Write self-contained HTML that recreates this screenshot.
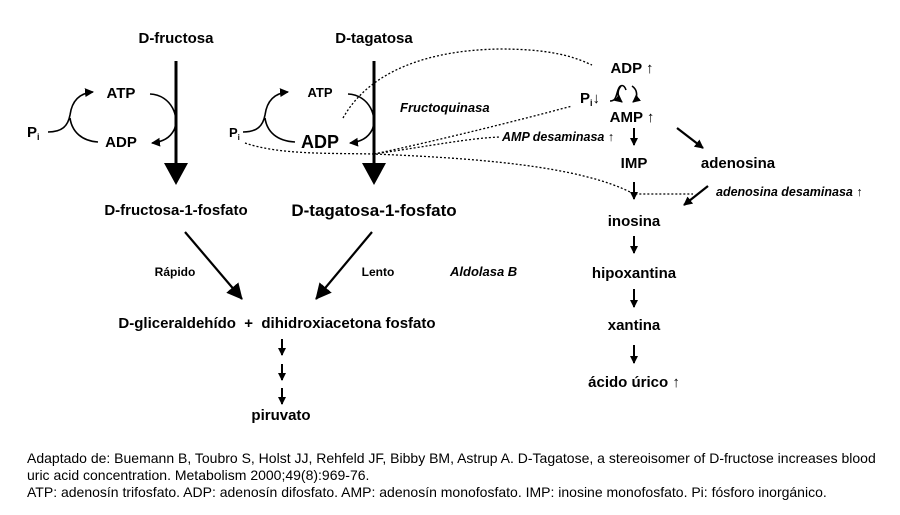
<!DOCTYPE html>
<html><head><style>
body{margin:0;background:#fff;}
svg text{font-family:"Liberation Sans",sans-serif;}
</style></head><body>
<svg width="900" height="510" viewBox="0 0 900 510" xmlns="http://www.w3.org/2000/svg">
<defs>
<marker id="a" markerWidth="9" markerHeight="9" refX="8" refY="4.5" orient="auto" markerUnits="userSpaceOnUse"><path d="M0,0 L9,4.5 L0,9 Z" fill="#000"/></marker>
<marker id="s" markerWidth="8" markerHeight="8" refX="7" refY="4" orient="auto" markerUnits="userSpaceOnUse"><path d="M0,0 L8,4 L0,8 Z" fill="#000"/></marker>
<marker id="b" markerWidth="16" markerHeight="16" refX="15" refY="8" orient="auto" markerUnits="userSpaceOnUse"><path d="M0,0 L16,8 L0,16 Z" fill="#000"/></marker>
</defs>
<g font-weight="bold" font-size="15" text-anchor="middle" fill="#000">
<text x="176" y="43">D-fructosa</text>
<text x="374" y="43">D-tagatosa</text>
<text x="121" y="98">ATP</text>
<text x="121" y="147">ADP</text>
<text x="320" y="97" font-size="13">ATP</text>
<text x="320" y="148" font-size="18">ADP</text>
<text x="176" y="215">D-fructosa-1-fosfato</text>
<text x="374" y="216" font-size="17">D-tagatosa-1-fosfato</text>
<text x="175" y="276" font-size="12">Rápido</text>
<text x="378" y="276" font-size="12">Lento</text>
<text x="277" y="328" xml:space="preserve">D-gliceraldehído  +  dihidroxiacetona fosfato</text>
<text x="281" y="420">piruvato</text>
<text x="632" y="73">ADP ↑</text>
<text x="632" y="122">AMP ↑</text>
<text x="634" y="168">IMP</text>
<text x="738" y="168">adenosina</text>
<text x="634" y="226">inosina</text>
<text x="634" y="278">hipoxantina</text>
<text x="634" y="330">xantina</text>
<text x="634" y="387">ácido úrico ↑</text>
</g>
<g font-weight="bold" font-size="15" fill="#000">
<text x="27" y="137">P<tspan font-size="9" dy="3">i</tspan></text>
<text x="229" y="137" font-size="13">P<tspan font-size="8" dy="3">i</tspan></text>
<text x="580" y="103">P<tspan font-size="9" dy="3">i</tspan><tspan dy="-3">↓</tspan></text>
</g>
<g font-weight="bold" font-style="italic" font-size="13" fill="#000">
<text x="400" y="112">Fructoquinasa</text>
<text x="502" y="141" font-size="12.5">AMP desaminasa ↑</text>
<text x="716" y="196" font-size="12.5">adenosina desaminasa ↑</text>
<text x="450" y="276">Aldolasa B</text>
</g>
<g stroke="#000" stroke-width="3" fill="none">
<line x1="176" y1="61" x2="176" y2="168"/>
<line x1="374" y1="61" x2="374" y2="168"/>
</g>
<path d="M164,163 L188,163 L176,185 Z M362,163 L386,163 L374,185 Z" fill="#000"/>
<g stroke="#000" stroke-width="1.6" fill="none">
<path d="M48,132 C62,132 68,126 70,115 C72,100 80,93 93,92" marker-end="url(#a)"/>
<path d="M70,118 C72,132 82,141 98,142"/>
<path d="M150,94 C172,95 180,118 174,130 C170,138 162,142 152,143" marker-end="url(#a)"/>
<path d="M243,132 C257,132 263,126 265,115 C267,100 275,93 288,92" marker-end="url(#a)"/>
<path d="M265,118 C267,132 277,141 295,142"/>
<path d="M348,94 C370,95 378,118 372,130 C368,138 360,142 350,143" marker-end="url(#a)"/>
<path d="M610,101 C616,101 616,96 618,90 C620,84 624,84 626,90" />
<path d="M621,86 C617,90 617,98 622,102" marker-end="url(#s)"/>
<path d="M632,86 C638,90 638,98 633,102" marker-end="url(#s)"/>
</g>
<g stroke="#000" stroke-width="2.2" fill="none">
<line x1="185" y1="232" x2="242" y2="299" marker-end="url(#b)"/>
<line x1="372" y1="232" x2="316" y2="299" marker-end="url(#b)"/>
<line x1="677" y1="128" x2="703" y2="148" marker-end="url(#a)"/>
<line x1="708" y1="186" x2="684" y2="205" marker-end="url(#a)"/>
</g>
<g stroke="#000" stroke-width="2" fill="none">
<line x1="282" y1="339" x2="282" y2="355" marker-end="url(#s)"/>
<line x1="282" y1="364" x2="282" y2="380" marker-end="url(#s)"/>
<line x1="282" y1="388" x2="282" y2="404" marker-end="url(#s)"/>
<line x1="634" y1="128" x2="634" y2="145" marker-end="url(#s)"/>
<line x1="634" y1="182" x2="634" y2="199" marker-end="url(#s)"/>
<line x1="634" y1="236" x2="634" y2="253" marker-end="url(#s)"/>
<line x1="634" y1="289" x2="634" y2="307" marker-end="url(#s)"/>
<line x1="634" y1="345" x2="634" y2="363" marker-end="url(#s)"/>
</g>
<g stroke="#000" stroke-width="1.3" stroke-dasharray="2,2" fill="none">
<path d="M343,118 C370,70 430,50 500,49 C560,49 580,60 592,65"/>
<path d="M374,154 C440,140 520,120 572,106"/>
<path d="M374,154 C430,146 470,138 500,137"/>
<path d="M245,143 C280,155 330,153 374,154 C470,158 580,165 634,194 L693,194"/>
</g>
<g font-size="14" fill="#000">
<text x="27" y="463">Adaptado de: Buemann B, Toubro S, Holst JJ,  Rehfeld JF, Bibby BM, Astrup A. D-Tagatose, a stereoisomer of D-fructose increases blood</text>
<text x="27" y="480">uric acid concentration. Metabolism 2000;49(8):969-76.</text>
<text x="27" y="497">ATP: adenosín trifosfato. ADP: adenosín difosfato. AMP: adenosín monofosfato.  IMP: inosine monofosfato. Pi: fósforo inorgánico.</text>
</g>
</svg>
</body></html>
